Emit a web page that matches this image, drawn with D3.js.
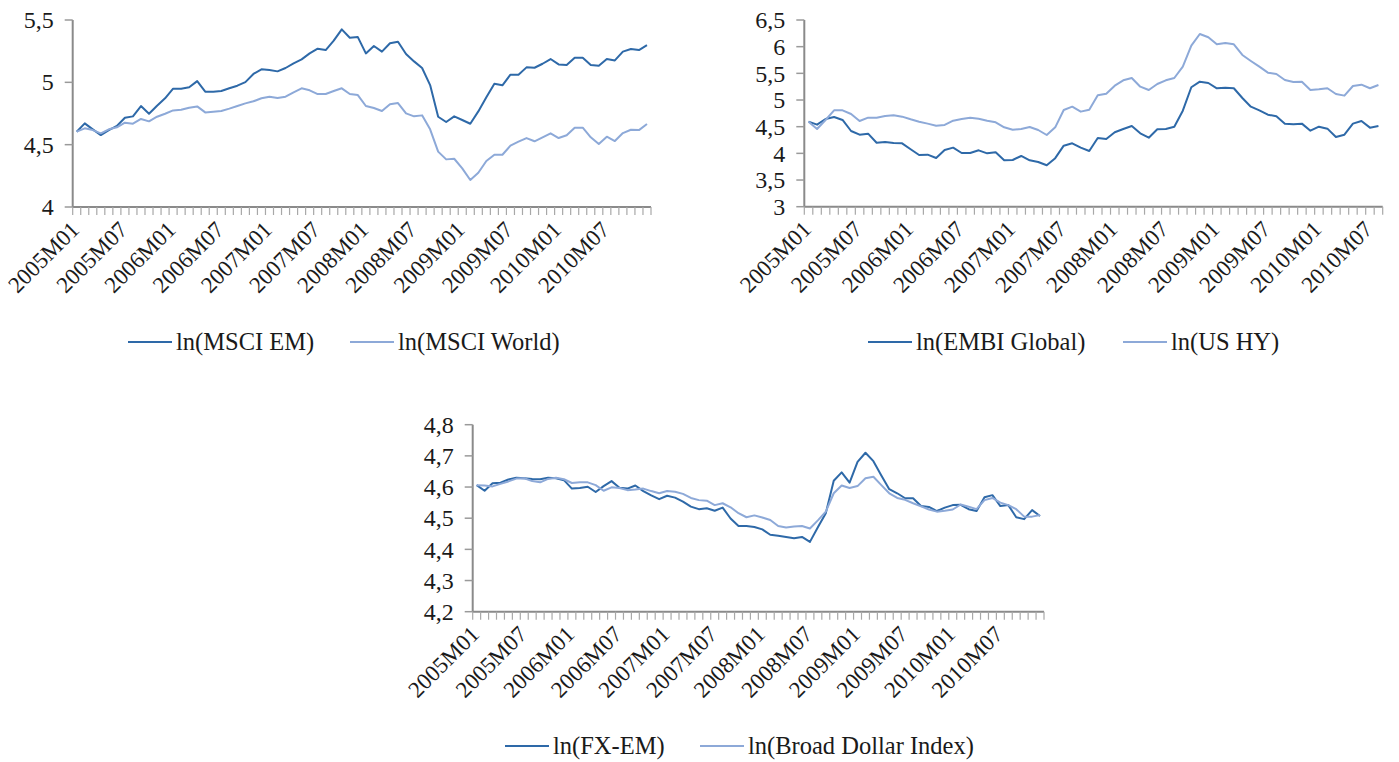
<!DOCTYPE html>
<html>
<head>
<meta charset="utf-8">
<script src="https://cdn.jsdelivr.net/npm/d3@7"></script>
<style>
  html, body { margin: 0; padding: 0; background: #fff; }
  svg { display: block; }
  text { font-family: "Liberation Serif", "Times New Roman", serif; fill: #1a1a1a; }
</style>
</head>
<body>
<svg id="chart" width="1399" height="762"></svg>
<script>
// Monthly category labels, 2005M01 onwards
function months(count) {
  const out = [];
  for (let i = 0; i < count; i++) {
    const y = 2005 + Math.floor(i / 12);
    const m = (i % 12) + 1;
    out.push(y + "M" + (m < 10 ? "0" + m : m));
  }
  return out;
}
const monthsFull = months(72);   // 2005M01 – 2010M12
const monthsShort = months(68);  // 2005M01 – 2010M08

// Equity indices (log levels)
const msciEM = [4.604,4.671,4.623,4.577,4.617,4.650,4.716,4.727,4.810,4.748,
  4.812,4.872,4.949,4.949,4.960,5.010,4.925,4.925,4.930,4.952,
  4.973,5.002,5.067,5.104,5.099,5.088,5.115,5.152,5.184,5.232,
  5.270,5.259,5.334,5.425,5.358,5.363,5.232,5.291,5.246,5.313,
  5.326,5.227,5.168,5.115,4.978,4.724,4.682,4.727,4.698,4.668,
  4.767,4.880,4.989,4.976,5.061,5.061,5.120,5.117,5.149,5.187,
  5.144,5.139,5.197,5.197,5.139,5.133,5.187,5.176,5.246,5.267,
  5.259,5.299];
const msciWorld = [4.604,4.631,4.617,4.591,4.623,4.639,4.676,4.668,4.706,4.687,
  4.724,4.748,4.775,4.780,4.796,4.807,4.759,4.764,4.770,4.789,
  4.810,4.831,4.848,4.872,4.885,4.874,4.885,4.920,4.952,4.936,
  4.906,4.906,4.930,4.952,4.906,4.898,4.810,4.794,4.770,4.824,
  4.834,4.751,4.727,4.735,4.623,4.444,4.382,4.387,4.310,4.217,
  4.275,4.369,4.419,4.419,4.492,4.524,4.553,4.527,4.559,4.591,
  4.553,4.575,4.636,4.636,4.559,4.505,4.564,4.529,4.593,4.620,
  4.617,4.666];

// Bond spreads (log levels)
const embiGlobal = [4.594,4.538,4.644,4.682,4.626,4.419,4.350,4.369,4.200,4.213,
  4.194,4.188,4.076,3.969,3.975,3.913,4.063,4.107,4.007,4.007,
  4.057,4.000,4.019,3.869,3.876,3.951,3.869,3.838,3.776,3.910,
  4.144,4.188,4.107,4.044,4.288,4.269,4.395,4.457,4.513,4.376,
  4.294,4.451,4.457,4.500,4.800,5.239,5.344,5.319,5.220,5.231,
  5.220,5.038,4.875,4.807,4.725,4.695,4.557,4.545,4.557,4.425,
  4.500,4.463,4.307,4.350,4.557,4.607,4.482,4.513];
const usHY = [4.594,4.457,4.626,4.807,4.807,4.738,4.607,4.669,4.669,4.701,
  4.713,4.688,4.638,4.594,4.557,4.519,4.532,4.613,4.644,4.669,
  4.650,4.613,4.582,4.488,4.444,4.457,4.494,4.438,4.344,4.488,
  4.813,4.875,4.782,4.819,5.088,5.119,5.269,5.369,5.413,5.250,
  5.188,5.300,5.369,5.413,5.625,6.019,6.238,6.176,6.045,6.069,
  6.045,5.844,5.732,5.625,5.513,5.488,5.376,5.338,5.344,5.188,
  5.200,5.220,5.113,5.082,5.263,5.288,5.220,5.282];

// Currencies (log levels)
const fxEM = [4.606,4.588,4.612,4.614,4.624,4.630,4.628,4.626,4.625,4.630,
  4.628,4.622,4.595,4.597,4.601,4.584,4.603,4.619,4.598,4.595,
  4.605,4.587,4.573,4.561,4.572,4.566,4.553,4.537,4.529,4.532,
  4.524,4.534,4.499,4.475,4.475,4.472,4.464,4.447,4.444,4.440,
  4.436,4.440,4.424,4.471,4.516,4.620,4.647,4.614,4.681,4.710,
  4.683,4.637,4.593,4.580,4.564,4.564,4.539,4.536,4.523,4.534,
  4.542,4.543,4.529,4.523,4.567,4.574,4.539,4.542,4.503,4.497,
  4.526,4.507];
const broadDollar = [4.606,4.605,4.602,4.610,4.618,4.627,4.628,4.619,4.615,4.626,
  4.630,4.625,4.613,4.615,4.615,4.606,4.588,4.599,4.597,4.590,
  4.592,4.595,4.587,4.580,4.587,4.585,4.578,4.565,4.558,4.556,
  4.542,4.548,4.535,4.516,4.503,4.509,4.502,4.494,4.475,4.470,
  4.473,4.475,4.467,4.493,4.521,4.580,4.605,4.597,4.603,4.628,
  4.633,4.606,4.580,4.565,4.559,4.548,4.538,4.528,4.521,4.524,
  4.528,4.544,4.537,4.529,4.558,4.565,4.550,4.542,4.529,4.505,
  4.505,4.510];

// Axis tick labels
const ticks1 = [4, 4.5, 5, 5.5];
const ticks2 = [3, 3.5, 4, 4.5, 5, 5.5, 6, 6.5];
const ticks3 = [4.2, 4.3, 4.4, 4.5, 4.6, 4.7, 4.8];

const DARK = "#2E69A8";
const LIGHT = "#8DA9D8";
const fmt = v => String(v).replace(".", ",");

const svg = d3.select("#chart");

function panel(opt) {
  const g = svg.append("g");
  const x = d3.scaleBand().domain(opt.cats).range([opt.x0, opt.x1]).paddingInner(0).paddingOuter(0);
  const y = d3.scaleLinear().domain(opt.yDomain).range([opt.y1, opt.y0]);
  const cx = c => x(c) + x.bandwidth() / 2;

  // y axis: line, ticks and labels
  g.append("line").attr("x1", opt.x0).attr("x2", opt.x0).attr("y1", opt.y0).attr("y2", opt.y1)
    .attr("stroke", "#8a8a8a").attr("stroke-width", 2);
  opt.yTicks.forEach(t => {
    g.append("line").attr("x1", opt.x0 - 8).attr("x2", opt.x0).attr("y1", y(t)).attr("y2", y(t))
      .attr("stroke", "#9a9a9a").attr("stroke-width", 1.5);
    g.append("text").attr("x", opt.x0 - 19).attr("y", y(t)).attr("dy", "0.34em")
      .attr("text-anchor", "end").style("font-size", "24px").text(fmt(t));
  });

  // lines
  const line = d3.line().x((d, i) => cx(opt.cats[i])).y(d => y(d));
  opt.series.forEach(s => {
    g.append("path").datum(s.values).attr("d", line).attr("fill", "none")
      .attr("stroke", s.color).attr("stroke-width", 2).attr("stroke-linejoin", "round");
  });

  // x axis: line, category boundary ticks and rotated labels
  g.append("line").attr("x1", opt.x0).attr("x2", opt.x1).attr("y1", opt.y1).attr("y2", opt.y1)
    .attr("stroke", "#8a8a8a").attr("stroke-width", 2);
  const bounds = opt.cats.map(c => x(c)).concat([opt.x1]);
  bounds.forEach(b => {
    g.append("line").attr("x1", b).attr("x2", b).attr("y1", opt.y1).attr("y2", opt.y1 + 8)
      .attr("stroke", "#a8a8a8").attr("stroke-width", 1.2);
  });
  opt.cats.forEach((c, i) => {
    if (i % 6 !== 0) return;
    const px = cx(c) + 4, py = opt.y1 + 24;
    g.append("text").attr("transform", `translate(${px},${py}) rotate(-45)`)
      .attr("text-anchor", "end").style("font-size", "23px").text(c);
  });

  // legend
  opt.series.forEach(s => {
    g.append("line").attr("x1", s.lx).attr("x2", s.lx + 44).attr("y1", opt.ly).attr("y2", opt.ly)
      .attr("stroke", s.color).attr("stroke-width", 2);
    g.append("text").attr("x", s.lx + 48).attr("y", opt.ly).attr("dy", "0.34em")
      .style("font-size", "24.5px").text(s.name);
  });
}

panel({
  cats: monthsFull, x0: 72.7, x1: 651, y0: 20, y1: 207, yDomain: [4, 5.5], yTicks: ticks1, ly: 342,
  series: [
    { name: "ln(MSCI EM)", values: msciEM, color: DARK, lx: 128 },
    { name: "ln(MSCI World)", values: msciWorld, color: LIGHT, lx: 350 }
  ]
});

panel({
  cats: monthsShort, x0: 804.3, x1: 1382.7, y0: 20, y1: 206.7, yDomain: [3, 6.5], yTicks: ticks2, ly: 342,
  series: [
    { name: "ln(EMBI Global)", values: embiGlobal, color: DARK, lx: 868 },
    { name: "ln(US HY)", values: usHY, color: LIGHT, lx: 1123 }
  ]
});

panel({
  cats: monthsFull, x0: 472.7, x1: 1044, y0: 424.7, y1: 611.7, yDomain: [4.2, 4.8], yTicks: ticks3, ly: 746,
  series: [
    { name: "ln(FX-EM)", values: fxEM, color: DARK, lx: 505 },
    { name: "ln(Broad Dollar Index)", values: broadDollar, color: LIGHT, lx: 700 }
  ]
});
</script>
</body>
</html>
